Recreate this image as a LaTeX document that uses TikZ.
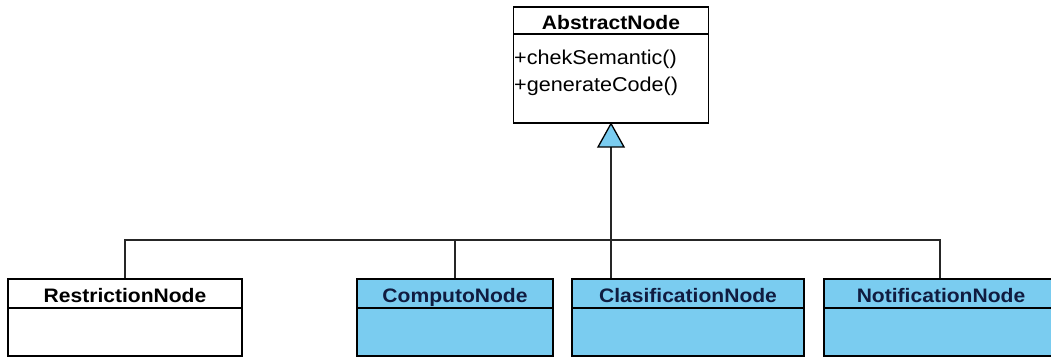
\documentclass[tikz,border=0pt]{standalone}
\usepackage{fontspec}
\setmainfont{Liberation Sans}
\newfontfamily\umlfont[FakeStretch=1.08]{Liberation Sans}
\definecolor{umlblue}{RGB}{122,204,240}
\definecolor{navy}{RGB}{16,28,64}
\tikzset{
  hdr/.style={draw=black, line width=1.3pt, minimum height=29pt, inner sep=0pt,
    text height=18pt, text depth=0pt,
    font=\umlfont\fontsize{19.5}{22}\selectfont\bfseries},
  body/.style={draw=black, line width=1.3pt, inner sep=0pt},
  bluebox/.style={fill=umlblue, text=navy},
  meth/.style={anchor=west, inner sep=0pt, font=\umlfont\fontsize{20}{22}\selectfont},
  conn/.style={line width=1.3pt, draw=black!85},
}
\begin{document}
\begin{tikzpicture}[x=1pt,y=-1pt]
\useasboundingbox (0,0) rectangle (1051,358);
\clip (0,0) rectangle (1051,358);
% AbstractNode
\node[body, minimum width=195pt, minimum height=89pt] (absb) at (611,78.5) {};
\node[hdr, minimum width=195pt, minimum height=27pt] (absh) at (611,20.5) {AbstractNode};
\node[meth] (m1) at (514,59) {+chekSemantic()};
\node[meth] (m2) at (514,86) {+generateCode()};
% children
\node[body, minimum width=234pt, minimum height=48pt] (rb) at (125,332) {};
\node[hdr, minimum width=234pt] (rh) at (125,293.5) {RestrictionNode};
\node[body, bluebox, minimum width=196pt, minimum height=48pt] (cb) at (455,332) {};
\node[hdr, bluebox, minimum width=196pt] (ch) at (455,293.5) {ComputoNode};
\node[body, bluebox, minimum width=232pt, minimum height=48pt] (lb) at (688,332) {};
\node[hdr, bluebox, minimum width=232pt] (lh) at (688,293.5) {ClasificationNode};
\node[body, bluebox, minimum width=234pt, minimum height=48pt] (nb) at (941,332) {};
\node[hdr, bluebox, minimum width=234pt] (nh) at (941,293.5) {NotificationNode};
% inheritance connectors
\coordinate (tri) at (611,147);
\coordinate (bus) at (611,240);
\draw[conn] (tri) -- (bus);
\draw[conn] (rh.north) |- (bus);
\draw[conn] (ch.north) |- (bus);
\draw[conn] (bus) -- (lh.north -| bus);
\draw[conn] (bus) -| (nh.north -| 940,0);
\draw[line width=1.3pt, fill=umlblue, line join=miter]
  (absb.south) -- (598,147) -- (624,147) -- cycle;
\end{tikzpicture}
\end{document}
